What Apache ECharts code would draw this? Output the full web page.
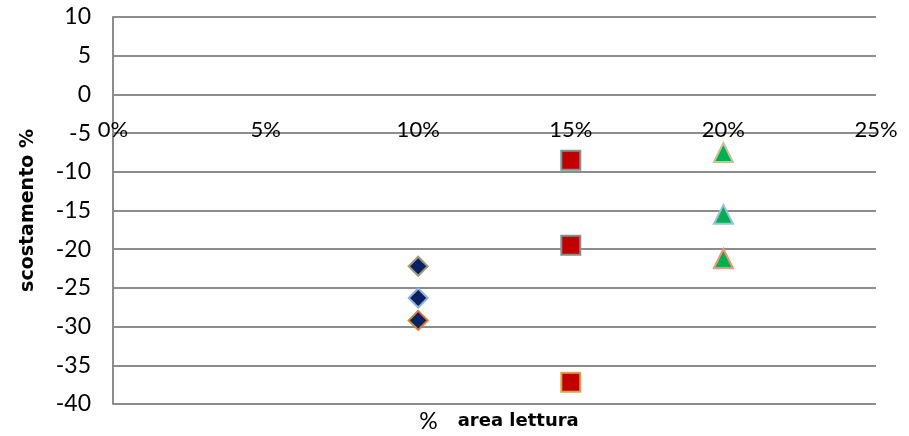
<!DOCTYPE html>
<html>
<head>
<meta charset="utf-8">
<script src="https://cdn.jsdelivr.net/npm/echarts@6/dist/echarts.min.js"></script>
<style>
  html, body { margin: 0; padding: 0; background: #fff; }
  #chart { width: 909px; height: 436px; }
</style>
</head>
<body>
<div id="chart"></div>
<script>
// x positions (% area lettura, as fractions)
const xDiamond = 0.10;
const xSquare = 0.15;
const xTriangle = 0.20;

// scostamento % values for each group
const diamondValues = [-22.2, -26.3, -29.2];
const squareValues = [-8.5, -19.5, -37.2];
const triangleValues = [-7.5, -15.5, -21.2];

// outline colour of the 1st, 2nd and 3rd point of each group
const diamondBorders = ['#9c9c78', '#8eb4da', '#e07a34'];
const squareBorders = ['#6f9a96', '#8c8c8c', '#cfa856'];
const triangleBorders = ['#cbbf9a', '#9cc0e0', '#f0957a'];

const yTicks = { min: -40, max: 10, step: 5 };
const xTicks = { min: 0, max: 0.25, step: 0.05 };

const fontFamily = 'Lato, "DejaVu Sans", sans-serif';
const nameFont = '"DejaVu Sans", sans-serif';

// plot box
const gridBox = { left: 113, right: 33, top: 17, bottom: 32 };
const chartHeight = 436;
const plotHeight = chartHeight - gridBox.top - gridBox.bottom;
// lift the x axis from the bottom edge up to the y = 0 line
const xAxisLift = -plotHeight * (0 - yTicks.min) / (yTicks.max - yTicks.min);

function points(x, values, borders) {
  return values.map((v, i) => ({
    value: [x, v],
    itemStyle: { borderColor: borders[i] }
  }));
}

const chart = echarts.init(document.getElementById('chart'), null, { renderer: 'canvas' });

chart.setOption({
  animation: false,
  backgroundColor: '#ffffff',
  grid: Object.assign({ containLabel: false, outerBoundsMode: 'none' }, gridBox),
  title: {
    left: 494,
    top: 405,
    textAlign: 'center',
    text: '{p|%}{t|area lettura}',
    textStyle: {
      rich: {
        p: { fontFamily: fontFamily, fontSize: 23, fontWeight: 'normal', color: '#000', padding: [0, 20, 0, 0] },
        t: { fontFamily: nameFont, fontSize: 18, fontWeight: 'bold', color: '#000' }
      }
    }
  },
  xAxis: {
    type: 'value',
    position: 'bottom',
    offset: xAxisLift,
    min: xTicks.min,
    max: xTicks.max,
    interval: xTicks.step,
    axisLine: { show: false, onZero: false },
    axisTick: { show: false },
    splitLine: { show: false },
    axisLabel: {
      margin: 25,
      fontFamily: fontFamily,
      fontSize: 22,
      color: '#000',
      formatter: v => Math.round(v * 100) + '%'
    }
  },
  yAxis: {
    type: 'value',
    min: yTicks.min,
    max: yTicks.max,
    interval: yTicks.step,
    name: 'scostamento %',
    nameLocation: 'middle',
    nameGap: 75,
    nameTextStyle: { fontFamily: nameFont, fontSize: 19, fontWeight: 'bold', color: '#000' },
    axisLine: { show: true, onZero: false, lineStyle: { color: '#8c8c8c', width: 2 } },
    axisTick: { show: false },
    splitLine: { show: true, lineStyle: { color: '#8c8c8c', width: 2 } },
    axisLabel: {
      margin: 22,
      fontFamily: fontFamily,
      fontSize: 23,
      color: '#000'
    }
  },
  series: [
    {
      type: 'scatter',
      symbol: 'diamond',
      symbolSize: 19,
      itemStyle: { color: '#0b2164', borderWidth: 2, opacity: 1 },
      data: points(xDiamond, diamondValues, diamondBorders)
    },
    {
      type: 'scatter',
      symbol: 'rect',
      symbolSize: 19,
      itemStyle: { color: '#c00000', borderWidth: 2, opacity: 1 },
      data: points(xSquare, squareValues, squareBorders)
    },
    {
      type: 'scatter',
      symbol: 'triangle',
      symbolSize: 19,
      itemStyle: { color: '#00b050', borderWidth: 2, opacity: 1 },
      data: points(xTriangle, triangleValues, triangleBorders)
    }
  ]
});
</script>
</body>
</html>
